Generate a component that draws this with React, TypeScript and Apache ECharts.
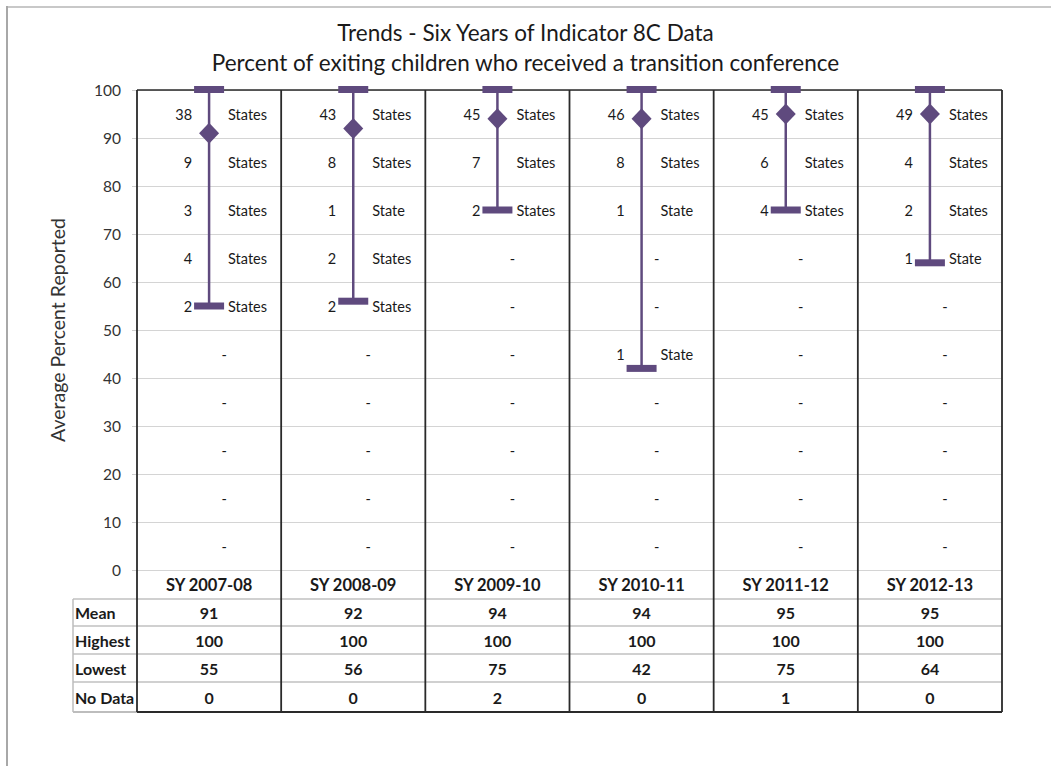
import React, { useEffect, useRef } from "react";
import * as echarts from "echarts";

const titleLines = [
  "Trends - Six Years of Indicator 8C Data",
  "Percent of exiting children who received a transition conference",
];
const yAxisName = "Average Percent Reported";
const categories = ["SY 2007-08", "SY 2008-09", "SY 2009-10", "SY 2010-11", "SY 2011-12", "SY 2012-13"];
const meanValues = [91, 92, 94, 94, 95, 95];
const highestValues = [100, 100, 100, 100, 100, 100];
const lowestValues = [55, 56, 75, 42, 75, 64];
const noDataValues = [0, 0, 2, 0, 1, 0];
const tableRowLabels = ["Mean", "Highest", "Lowest", "No Data"];
// centers of the 10-point bands, top to bottom
const bandMids = [95, 85, 75, 65, 55, 45, 35, 25, 15, 5];
// number of states in each band (null = "-")
const stateCounts: (number | null)[][] = [
  [38, 9, 3, 4, 2, null, null, null, null, null],
  [43, 8, 1, 2, 2, null, null, null, null, null],
  [45, 7, 2, null, null, null, null, null, null, null],
  [46, 8, 1, null, null, 1, null, null, null, null],
  [45, 6, 4, null, null, null, null, null, null, null],
  [49, 4, 2, 1, null, null, null, null, null, null],
];

const PURPLE = "#5f4a7e";
const FONT = "Lato, 'Noto Sans', sans-serif";
const TEXT = "#1a1a1a";

export default function App() {
  const ref = useRef<HTMLDivElement>(null);
  useEffect(() => {
    if (!ref.current) return;
    const chart = echarts.init(ref.current, null, { renderer: "svg" });

    const labelItems: { col: number; mid: number; count: number | null }[] = [];
    stateCounts.forEach((col, ci) =>
      col.forEach((c, bi) => labelItems.push({ col: ci, mid: bandMids[bi], count: c }))
    );

    chart.setOption({
      animation: false,
      backgroundColor: "#ffffff",
      title: {
        text: titleLines.join("\n"),
        left: "center",
        top: 12,
        textStyle: { fontFamily: FONT, fontSize: 22.5, fontWeight: "normal", color: TEXT, lineHeight: 30 },
      },
      grid: { left: 137, top: 90, width: 865, height: 480, containLabel: false },
      xAxis: {
        type: "category",
        data: categories,
        boundaryGap: true,
        axisLine: { show: false },
        axisTick: { show: false },
        axisLabel: { fontFamily: FONT, fontSize: 16.5, fontWeight: "bold", color: TEXT, margin: 6 },
        splitLine: { show: false },
      },
      yAxis: {
        type: "value",
        min: 0,
        max: 100,
        interval: 10,
        name: yAxisName,
        nameLocation: "middle",
        nameGap: 70,
        nameTextStyle: { fontFamily: FONT, fontSize: 19.5, color: "#333" },
        axisLine: { show: false },
        axisTick: { show: true, length: 5, lineStyle: { color: "#cfcfcf" } },
        axisLabel: { fontFamily: FONT, fontSize: 15.5, color: "#333", margin: 16 },
        splitLine: { show: true, lineStyle: { color: "#d4d4d4", width: 1 } },
      },
      series: [
        {
          type: "custom",
          name: "range",
          z: 20,
          clip: false,
          data: categories.map((_, i) => [i, lowestValues[i], highestValues[i]]),
          renderItem: (params: any, api: any) => {
            const x = api.value(0);
            const lo = api.coord([x, api.value(1)]);
            const hi = api.coord([x, api.value(2)]);
            return {
              type: "group",
              children: [
                { type: "line", shape: { x1: lo[0], y1: lo[1], x2: hi[0], y2: hi[1] }, style: { stroke: PURPLE, lineWidth: 2.5 } },
                { type: "rect", shape: { x: hi[0] - 15, y: hi[1] - 4, width: 30, height: 7 }, style: { fill: PURPLE } },
                { type: "rect", shape: { x: lo[0] - 15, y: lo[1] - 3.5, width: 30, height: 7 }, style: { fill: PURPLE } },
              ],
            };
          },
        },
        {
          type: "scatter",
          name: "Mean",
          z: 21,
          symbol: "diamond",
          symbolSize: [20, 21],
          itemStyle: { color: PURPLE, opacity: 1 },
          data: categories.map((_, i) => [i, meanValues[i]]),
        },
        {
          type: "custom",
          name: "counts",
          z: 15,
          clip: false,
          data: labelItems.map((d) => [d.col, d.mid]),
          renderItem: (params: any, api: any) => {
            const item = labelItems[params.dataIndex];
            const p = api.coord([api.value(0), api.value(1)]);
            const base = { fontFamily: FONT, fontSize: 14.5, fill: TEXT, textVerticalAlign: "middle" };
            if (item.count === null) {
              return { type: "text", style: { ...base, text: "-", x: p[0] + 15, y: p[1], textAlign: "center" } };
            }
            return {
              type: "group",
              children: [
                { type: "text", style: { ...base, text: String(item.count), x: p[0] - 17, y: p[1], textAlign: "right" } },
                { type: "text", style: { ...base, text: item.count === 1 ? "State" : "States", x: p[0] + 19, y: p[1], textAlign: "left" } },
              ],
            };
          },
        },
      ],
    });

    // Build frame and table from axis pixel positions
    const c0 = chart.convertToPixel({ xAxisIndex: 0 }, 0) as number;
    const c1 = chart.convertToPixel({ xAxisIndex: 0 }, 1) as number;
    const half = (c1 - c0) / 2;
    const yTop = chart.convertToPixel({ yAxisIndex: 0 }, 100) as number;
    const yZero = chart.convertToPixel({ yAxisIndex: 0 }, 0) as number;
    const centers = categories.map((_, i) => chart.convertToPixel({ xAxisIndex: 0 }, i) as number);
    const leftEdge = centers[0] - half;
    const rightEdge = centers[centers.length - 1] + half;
    const tableLeft = 73;
    const rowLines = [yZero + 29, yZero + 56, yZero + 84, yZero + 112, yZero + 142];
    const tableBottom = rowLines[rowLines.length - 1];
    const rows = [meanValues, highestValues, lowestValues, noDataValues];

    const g: any[] = [];
    // outer frame
    g.push({ type: "line", z: 1, shape: { x1: 6, y1: 7, x2: 1051, y2: 7 }, style: { stroke: "#c8c8c8", lineWidth: 2 } });
    g.push({ type: "line", z: 1, shape: { x1: 7, y1: 6, x2: 7, y2: 766 }, style: { stroke: "#a8a8a8", lineWidth: 2 } });
    // table horizontal lines
    rowLines.forEach((y, i) => {
      const last = i === rowLines.length - 1;
      g.push({ type: "line", z: 5, shape: { x1: tableLeft, y1: y, x2: rightEdge, y2: y }, style: { stroke: last ? "#bdbdbd" : "#d0d0d0", lineWidth: 2 } });
    });
    g.push({ type: "line", z: 5, shape: { x1: tableLeft, y1: rowLines[0], x2: tableLeft, y2: tableBottom }, style: { stroke: "#bdbdbd", lineWidth: 1.5 } });
    // bottom dark border under columns
    g.push({ type: "line", z: 7, shape: { x1: leftEdge, y1: tableBottom, x2: rightEdge, y2: tableBottom }, style: { stroke: "#2a2a2a", lineWidth: 2 } });
    // top dark border
    g.push({ type: "line", z: 7, shape: { x1: leftEdge, y1: yTop, x2: rightEdge, y2: yTop }, style: { stroke: "#2a2a2a", lineWidth: 1.5 } });
    // column vertical lines
    for (let i = 0; i <= categories.length; i++) {
      const x = leftEdge + i * half * 2;
      g.push({ type: "line", z: 7, shape: { x1: x, y1: yTop, x2: x, y2: tableBottom }, style: { stroke: "#2a2a2a", lineWidth: 1.8 } });
    }
    // row labels and values
    rows.forEach((vals, r) => {
      const yc = (rowLines[r] + rowLines[r + 1]) / 2;
      g.push({
        type: "text", z: 8,
        style: { text: tableRowLabels[r], x: tableLeft + 2, y: yc, textAlign: "left", textVerticalAlign: "middle", fontFamily: FONT, fontSize: 16, fontWeight: "bold", fill: TEXT },
      });
      vals.forEach((v, ci) => {
        g.push({
          type: "text", z: 8,
          style: { text: String(v), x: centers[ci], y: yc, textAlign: "center", textVerticalAlign: "middle", fontFamily: FONT, fontSize: 16, fontWeight: "bold", fill: TEXT },
        });
      });
    });
    chart.setOption({ graphic: g });

    return () => chart.dispose();
  }, []);

  return (
    <div
      ref={ref}
      style={{ position: "fixed", left: 0, top: 0, width: 1051, height: 766, background: "#fff" }}
    />
  );
}
